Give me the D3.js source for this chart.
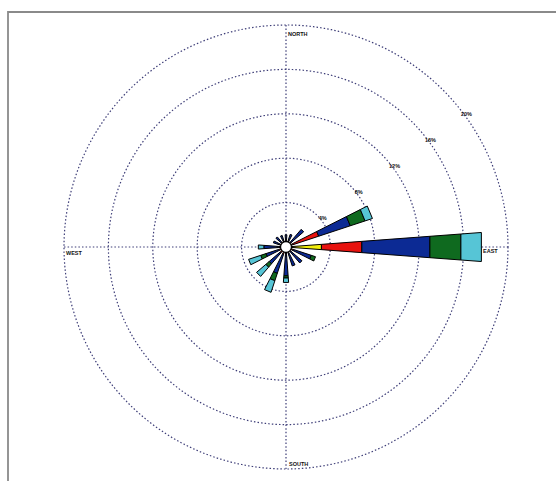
<!DOCTYPE html>
<html>
<head>
<meta charset="utf-8">
<script src="https://cdn.jsdelivr.net/npm/d3@7"></script>
<style>
  html, body { margin: 0; padding: 0; background: #fff; }
  svg { display: block; }
  text { font-family: Arial, "Liberation Sans", sans-serif; font-weight: bold; fill: #111; }
</style>
</head>
<body>
<svg id="rose" width="556" height="481"></svg>
<script>
// Wind directions (compass degrees, clockwise from north)
const directions = ["N","NNE","NE","ENE","E","ESE","SE","SSE","S","SSW","SW","WSW","W","WNW","NW","NNW"];
const angles = [0, 22.5, 45, 67.5, 90, 112.5, 135, 157.5, 180, 202.5, 225, 247.5, 270, 292.5, 315, 337.5];

// Frequency (%) of each speed class per direction
const speedClasses = ["class1", "class2", "class3", "class4", "class5"];
const class1 = [0.3, 0.3, 0.3, 0.6, 3.2, 0.3, 0.3, 0.3, 0.3, 0.3, 0.3, 0.3, 0.3, 0.3, 0.3, 0.3];
const class2 = [0.3, 0.3, 0.3, 2.5, 3.65, 0.4, 0.3, 0.3, 0.4, 0.4, 0.4, 0.4, 0.4, 0.3, 0.3, 0.3];
const class3 = [0.5, 0.6, 1.5, 3.0, 6.15, 1.7, 1.3, 1.2, 1.9, 1.8, 1.3, 1.2, 1.3, 0.6, 0.6, 0.5];
const class4 = [0.0, 0.0, 0.0, 1.4, 2.8, 0.4, 0.0, 0.0, 0.2, 0.7, 0.4, 0.5, 0.0, 0.0, 0.0, 0.0];
const class5 = [0.0, 0.0, 0.0, 0.7, 1.85, 0.0, 0.0, 0.0, 0.4, 1.1, 1.1, 1.15, 0.5, 0.0, 0.0, 0.0];
const classColors = ["#f2ee0c", "#e8120e", "#0c2a94", "#0f6a1f", "#56c5d6"];

// Rings and compass labels
const ringValues = [4, 8, 12, 16, 20];
const ringLabels = ["4%", "8%", "12%", "16%", "20%"];
const compassLabels = ["NORTH", "EAST", "SOUTH", "WEST"];

const svg = d3.select("#rose");
const cx = 286, cy = 247;
const r = d3.scaleLinear().domain([0, 20]).range([0, 222]);
const halfWidth = 4.25; // degrees of half wedge width
const gridColor = "#3e3e78";
const gridDash = "1.5,2.1";

// Frame lines (top and left)
svg.append("path")
  .attr("d", "M8,481 L8,12 L556,12")
  .attr("fill", "none").attr("stroke", "#8a8a8a").attr("stroke-width", 1.8);

const g = svg.append("g").attr("transform", `translate(${cx},${cy})`);

// Dotted rings
g.selectAll("circle.ring").data(ringValues).join("circle")
  .attr("class", "ring")
  .attr("r", d => r(d))
  .attr("fill", "none").attr("stroke", gridColor).attr("stroke-width", 1.2)
  .attr("stroke-dasharray", gridDash);

// Dotted axes
const rMax = r(20);
g.append("line").attr("x1", 0).attr("y1", -rMax).attr("x2", 0).attr("y2", rMax)
  .attr("stroke", gridColor).attr("stroke-width", 1.2).attr("stroke-dasharray", gridDash);
g.append("line").attr("x1", -rMax).attr("y1", 0).attr("x2", rMax).attr("y2", 0)
  .attr("stroke", gridColor).attr("stroke-width", 1.2).attr("stroke-dasharray", gridDash);

// Polar helper: compass degrees -> screen xy
function pt(deg, rad) {
  const a = (deg - 90) * Math.PI / 180;
  return [rad * Math.cos(a), rad * Math.sin(a)];
}

// Build stacked segments per direction
const classArrays = [class1, class2, class3, class4, class5];
const segments = [];
directions.forEach((d, i) => {
  let base = 0;
  classArrays.forEach((arr, k) => {
    const v = arr[i];
    if (v > 0) {
      segments.push({ dir: d, angle: angles[i], r0: base, r1: base + v, color: classColors[k], cls: speedClasses[k] });
    }
    base += v;
  });
});

const line = d3.line();
g.selectAll("path.seg").data(segments).join("path")
  .attr("class", "seg")
  .attr("d", s => line([
    pt(s.angle - halfWidth, r(s.r0)),
    pt(s.angle - halfWidth, r(s.r1)),
    pt(s.angle + halfWidth, r(s.r1)),
    pt(s.angle + halfWidth, r(s.r0))
  ]) + "Z")
  .attr("fill", s => s.color)
  .attr("stroke", "#000").attr("stroke-width", 1).attr("stroke-linejoin", "miter");

// Calm circle
g.append("circle").attr("r", 5.5).attr("fill", "#fff").attr("stroke", "#000").attr("stroke-width", 1.3);

// Ring labels along the north-east diagonal
g.selectAll("text.ringlab").data(ringValues).join("text")
  .attr("class", "ringlab")
  .attr("x", d => pt(54, r(d) + 1)[0])
  .attr("y", d => pt(54, r(d) + 1)[1])
  .attr("text-anchor", "middle")
  .attr("font-size", 5.5)
  .text((d, i) => ringLabels[i]);

// Compass labels
const cPos = [
  { x: 2, y: -rMax + 11 },
  { x: 197, y: 6 },
  { x: 3, y: rMax - 3 },
  { x: -rMax + 2, y: 8 }
];
g.selectAll("text.compass").data(compassLabels).join("text")
  .attr("class", "compass")
  .attr("x", (d, i) => cPos[i].x)
  .attr("y", (d, i) => cPos[i].y)
  .attr("font-size", 5.5)
  .text(d => d);
</script>
</body>
</html>
